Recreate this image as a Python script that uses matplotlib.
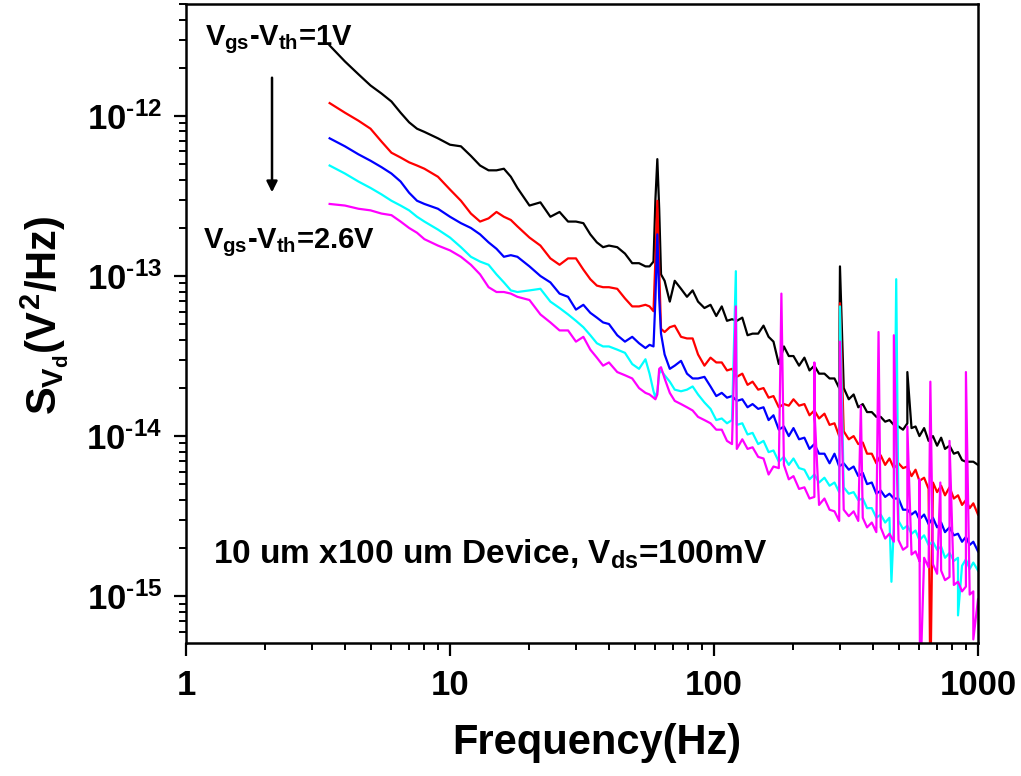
import numpy as np
import matplotlib.pyplot as plt
from matplotlib.ticker import LogLocator, NullFormatter

plt.rcParams['font.family'] = ['Liberation Sans', 'DejaVu Sans']
plt.rcParams['font.weight'] = 'bold'
plt.rcParams['mathtext.fontset'] = 'custom'
plt.rcParams['mathtext.rm'] = 'Liberation Sans:bold'
plt.rcParams['mathtext.it'] = 'Liberation Sans:bold'
plt.rcParams['mathtext.bf'] = 'Liberation Sans:bold'

# frequency grid (Hz), shared by all five spectra
freq = [3.5, 4, 4.5, 5, 5.5, 6, 6.5, 7, 7.5, 8, 9, 10, 11, 12, 13, 14, 15, 16, 17, 18,
        20, 22, 24, 26, 28, 30, 32, 34, 36, 38, 40, 43, 46, 49, 52, 55, 57, 59, 60, 61,
        62, 63, 65, 68, 71, 75, 79, 83, 87, 92, 97, 102, 107, 112, 117, 122, 128, 134, 140, 147,
        154, 161, 168, 176, 184, 192, 200, 210, 220, 230, 240, 250, 262, 274, 286, 298, 310, 324, 338, 352,
        366, 380, 396, 412, 428, 445, 462, 480, 500, 520, 540, 560, 580, 600, 625, 650, 675, 700, 725, 750,
        780, 810, 840, 870, 900, 930, 960, 1000]

# log10 of S_Vd (V^2/Hz)
log_black = [-11.56, -11.66, -11.74, -11.81, -11.86, -11.91, -11.98, -12.04, -12.08, -12.10,
             -12.14, -12.18, -12.19, -12.25, -12.31, -12.34, -12.34, -12.33, -12.38, -12.45,
             -12.56, -12.54, -12.63, -12.60, -12.66, -12.66, -12.67, -12.74, -12.79, -12.82,
             -12.81, -12.82, -12.86, -12.92, -12.92, -12.94, -12.94, -12.91, -12.52, -12.27,
             -12.58, -12.99, -13.03, -13.16, -13.03, -13.08, -13.13, -13.09, -13.16, -13.20,
             -13.18, -13.25, -13.19, -13.28, -13.27, -13.28, -13.26, -13.37, -13.36, -13.36,
             -13.31, -13.38, -13.41, -13.55, -13.44, -13.50, -13.50, -13.56, -13.51, -13.59,
             -13.56, -13.61, -13.61, -13.64, -13.64, -13.70, -13.70, -13.77, -13.74, -13.82,
             -13.80, -13.85, -13.85, -13.88, -13.88, -13.91, -13.90, -13.93, -13.94, -13.96,
             -13.92, -13.95, -13.94, -14.00, -13.95, -14.03, -14.00, -14.06, -14.01, -14.08,
             -14.06, -14.11, -14.10, -14.15, -14.16, -14.16, -14.16, -14.18]
log_red = [-11.92, -11.98, -12.03, -12.08, -12.16, -12.23, -12.26, -12.29, -12.31, -12.33,
           -12.38, -12.46, -12.53, -12.61, -12.66, -12.64, -12.60, -12.63, -12.65, -12.69,
           -12.76, -12.81, -12.89, -12.93, -12.89, -12.89, -12.96, -13.02, -13.06, -13.07,
           -13.07, -13.08, -13.14, -13.19, -13.19, -13.18, -13.19, -13.22, -12.89, -12.53,
           -12.96, -13.33, -13.35, -13.32, -13.31, -13.38, -13.39, -13.39, -13.49, -13.56,
           -13.51, -13.54, -13.54, -13.59, -13.58, -13.63, -13.61, -13.68, -13.66, -13.71,
           -13.70, -13.76, -13.75, -13.82, -13.80, -13.81, -13.77, -13.81, -13.80, -13.87,
           -13.84, -13.89, -13.86, -13.93, -13.92, -14.00, -13.97, -14.02, -14.00, -14.05,
           -14.04, -14.11, -14.11, -14.17, -14.12, -14.18, -14.14, -14.20, -14.17, -14.20,
           -14.19, -14.25, -14.21, -14.28, -14.26, -14.33, -14.29, -14.35, -14.31, -14.37,
           -14.32, -14.39, -14.37, -14.43, -14.40, -14.45, -14.42, -14.49]
log_blue = [-12.14, -12.19, -12.24, -12.28, -12.32, -12.36, -12.41, -12.48, -12.53, -12.55,
            -12.58, -12.63, -12.67, -12.70, -12.74, -12.79, -12.83, -12.88, -12.87, -12.88,
            -12.94, -13.00, -13.04, -13.11, -13.13, -13.21, -13.18, -13.23, -13.26, -13.29,
            -13.30, -13.37, -13.41, -13.38, -13.42, -13.45, -13.43, -13.44, -13.14, -12.74,
            -13.14, -13.36, -13.49, -13.58, -13.56, -13.53, -13.61, -13.64, -13.64, -13.63,
            -13.69, -13.75, -13.73, -13.76, -13.75, -13.78, -13.77, -13.82, -13.80, -13.83,
            -13.82, -13.90, -13.87, -13.96, -13.94, -14.00, -13.95, -14.02, -14.01, -14.08,
            -14.05, -14.11, -14.11, -14.17, -14.11, -14.19, -14.17, -14.21, -14.19, -14.25,
            -14.23, -14.30, -14.29, -14.36, -14.34, -14.38, -14.36, -14.39, -14.39, -14.46,
            -14.46, -14.49, -14.47, -14.52, -14.49, -14.55, -14.51, -14.57, -14.54, -14.60,
            -14.57, -14.62, -14.61, -14.66, -14.63, -14.68, -14.66, -14.72]
log_cyan = [-12.31, -12.36, -12.41, -12.45, -12.49, -12.53, -12.56, -12.59, -12.63, -12.66,
            -12.71, -12.76, -12.82, -12.88, -12.91, -12.93, -12.99, -13.04, -13.09, -13.10,
            -13.09, -13.08, -13.16, -13.20, -13.24, -13.28, -13.32, -13.37, -13.42, -13.44,
            -13.44, -13.46, -13.48, -13.55, -13.58, -13.52, -13.61, -13.72, -13.76, -13.72,
            -13.61, -13.59, -13.62, -13.66, -13.71, -13.72, -13.71, -13.69, -13.74, -13.79,
            -13.83, -13.90, -13.89, -13.92, -13.90, -13.93, -13.92, -13.99, -13.98, -14.05,
            -14.03, -14.10, -14.09, -14.16, -14.13, -14.18, -14.14, -14.20, -14.21, -14.27,
            -14.24, -14.29, -14.26, -14.31, -14.29, -14.35, -14.32, -14.36, -14.35, -14.40,
            -14.39, -14.45, -14.45, -14.51, -14.49, -14.54, -14.51, -14.56, -14.53, -14.58,
            -14.56, -14.61, -14.59, -14.65, -14.62, -14.68, -14.66, -14.71, -14.69, -14.76,
            -14.73, -14.78, -14.76, -14.81, -14.77, -14.83, -14.79, -14.84]
log_magenta = [-12.55, -12.56, -12.58, -12.59, -12.61, -12.62, -12.66, -12.70, -12.73, -12.77,
               -12.81, -12.84, -12.88, -12.93, -12.99, -13.07, -13.10, -13.10, -13.11, -13.13,
               -13.15, -13.24, -13.29, -13.34, -13.34, -13.41, -13.38, -13.46, -13.51, -13.56,
               -13.54, -13.60, -13.62, -13.64, -13.70, -13.73, -13.74, -13.76, -13.77, -13.74,
               -13.58, -13.57, -13.64, -13.73, -13.78, -13.80, -13.82, -13.84, -13.88, -13.90,
               -13.92, -13.96, -13.96, -14.03, -14.05, -14.08, -14.02, -14.08, -14.07, -14.13,
               -14.14, -14.24, -14.19, -14.20, -14.18, -14.27, -14.25, -14.33, -14.32, -14.39,
               -14.38, -14.43, -14.39, -14.46, -14.47, -14.53, -14.46, -14.50, -14.47, -14.53,
               -14.51, -14.57, -14.54, -14.60, -14.57, -14.64, -14.61, -14.66, -14.65, -14.71,
               -14.69, -14.74, -14.72, -14.78, -14.76, -14.82, -14.80, -14.86, -14.84, -14.90,
               -14.88, -14.93, -14.91, -14.97, -14.94, -14.99, -14.97, -15.02]

# line-frequency harmonics / glitches: (Hz, log10 S)
spk_black_f, spk_black = [300, 540], [-12.94, -13.60]
spk_red_f, spk_red = [300, 660], [-13.17, -15.60]
spk_blue_f, spk_blue = [], []
spk_cyan_f, spk_cyan = [121, 300, 470, 490, 840], [-12.97, -13.19, -14.91, -13.02, -15.12]
spk_magenta_f = [121, 180, 240, 241, 300, 360, 420, 480, 540, 600, 603, 660, 720, 780, 900, 960]
spk_magenta = [-13.19, -13.11, -13.54, -13.89, -13.41, -13.81, -13.35, -13.37, -13.94, -14.27,
               -15.60, -13.66, -14.29, -14.03, -13.60, -15.27]


def merge(base, sf, se):
    f = np.concatenate([np.asarray(freq, float), np.asarray(sf, float)])
    e = np.concatenate([np.asarray(base, float), np.asarray(se, float)])
    order = np.argsort(f, kind='stable')
    return f[order], 10.0 ** e[order]


fig = plt.figure(figsize=(10.21, 7.76), dpi=100)
ax = fig.add_axes([186 / 1021, 1 - 643 / 776, 792 / 1021, 639 / 776])

curves = [(log_black, spk_black_f, spk_black, 'black'),
          (log_red, spk_red_f, spk_red, 'red'),
          (log_blue, spk_blue_f, spk_blue, 'blue'),
          (log_cyan, spk_cyan_f, spk_cyan, 'cyan'),
          (log_magenta, spk_magenta_f, spk_magenta, 'magenta')]
for base, sf, se, c in curves:
    f, s = merge(base, sf, se)
    ax.plot(f, s, color=c, lw=1.6)

ax.set_xscale('log')
ax.set_yscale('log')
ax.set_xlim(1, 1000)
ax.set_ylim(5.1e-16, 5.0e-12)

ax.set_xticks([1, 10, 100, 1000], labels=['1', '10', '100', '1000'])
ax.set_yticks([1e-15, 1e-14, 1e-13, 1e-12],
              labels=[r'$10^{\text{-}15}$', r'$10^{\text{-}14}$',
                      r'$10^{\text{-}13}$', r'$10^{\text{-}12}$'])
for a in (ax.xaxis, ax.yaxis):
    a.set_minor_locator(LogLocator(base=10, subs=range(2, 10), numticks=20))
    a.set_minor_formatter(NullFormatter())
ax.tick_params(which='major', direction='out', length=9, width=1.6, labelsize=25, pad=8)
ax.tick_params(which='minor', direction='out', length=5, width=1.4)
ax.tick_params(axis='x', which='major', pad=10)
for sp in ax.spines.values():
    sp.set_linewidth(1.8)

ax.set_xlabel('Frequency(Hz)', fontsize=30, fontweight='bold')
ax.xaxis.set_label_coords(0.519, -0.125)
fig.text(45 / 1021, 1 - 315 / 776, r'$S_{V_d}(V^2/Hz)$', rotation=90,
         fontsize=30, ha='center', va='center')

ax.text(0.024, 0.936, r'$V_{gs}$-$V_{th}$=1V', transform=ax.transAxes,
        fontsize=21, va='baseline')
ax.text(0.0215, 0.618, r'$V_{gs}$-$V_{th}$=2.6V', transform=ax.transAxes,
        fontsize=21, va='baseline')
ax.text(0.034, 0.125, r'10 um x100 um Device, $V_{ds}$=100mV', transform=ax.transAxes,
        fontsize=24, va='baseline')
ax.annotate('', xy=(0.1086, 0.701), xytext=(0.1086, 0.889),
            xycoords='axes fraction', textcoords='axes fraction',
            arrowprops=dict(arrowstyle='-|>', color='black', lw=1.8, mutation_scale=16))

fig.savefig('out.png', dpi=100)
